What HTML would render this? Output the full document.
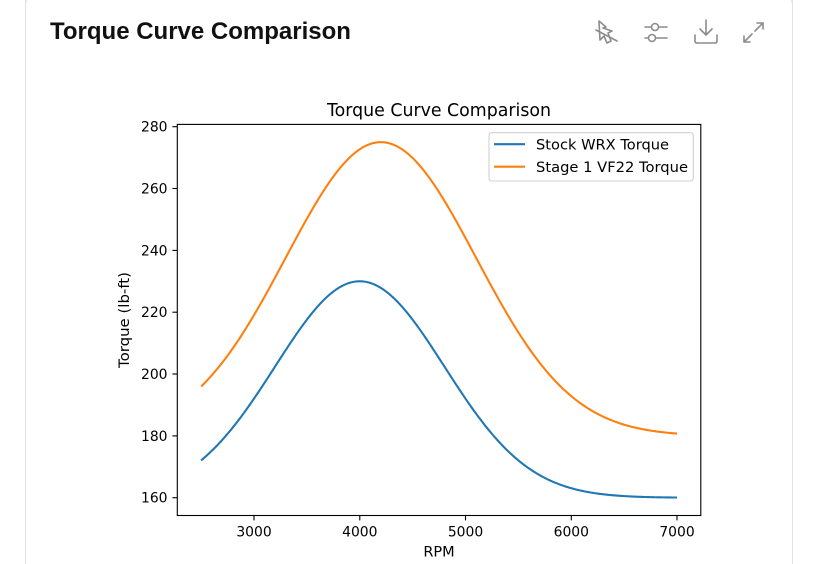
<!DOCTYPE html>
<html><head><meta charset="utf-8">
<style>
html,body{margin:0;padding:0;background:#fff;width:820px;height:564px;overflow:hidden;}
#wrap{position:relative;width:820px;height:564px;overflow:hidden;font-family:"Liberation Sans",Arial,sans-serif;background:#fff;}
.card{position:absolute;left:25px;top:0;width:768px;height:564px;box-sizing:border-box;border:1px solid #e3e3e3;border-top:none;border-bottom:none;border-radius:0;background:#fff;}
.cardtop{position:absolute;left:25px;top:0;width:768px;height:30px;box-sizing:border-box;overflow:hidden;}
.cardtop div{position:absolute;left:0;top:-12px;width:768px;height:60px;box-sizing:border-box;border:1px solid #e3e3e3;border-radius:18px;background:#fff;}
.h{position:absolute;left:50px;top:18px;font-size:24px;font-weight:bold;color:#111;letter-spacing:0px;}
svg{position:absolute;left:0;top:0;}
</style></head>
<body>
<div id="wrap">
<div class="card"></div>
<div class="cardtop"><div></div></div>
<div class="h">Torque Curve Comparison</div>
<svg width="820" height="564" viewBox="0 0 820 564">
  <g fill="none" stroke="#8c8c8c" stroke-width="1.6" stroke-linecap="round" stroke-linejoin="round">
    <path d="M599 21 L606 27 L603 28 L612 31 L608 33 L611 41 L607 43 L604 36 L600 40 Z"/>
    <path d="M596 30 L617 41"/>
    <path d="M645 27 L651 27 M659 27 L667 27"/>
    <circle cx="655" cy="27" r="3.5"/>
    <path d="M645 38 L648 38 M656 38 L667 38"/>
    <circle cx="652" cy="38" r="3.5"/>
    <path d="M706 20 L706 35 M700 29 L706 35 L712 29"/>
    <path d="M695 35 L695 41 Q695 43 697 43 L715 43 Q717 43 717 41 L717 35"/>
    <path d="M755 31 L763 23 M757 23 L763 23 L763 29"/>
    <path d="M752 34 L744 42 M744 36 L744 42 L750 42"/>
  </g>

  <text x="439" y="116" text-anchor="middle" font-family="DejaVu Sans, sans-serif" font-size="17.4" textLength="224" lengthAdjust="spacingAndGlyphs" fill="#000">Torque Curve Comparison</text>

  <path id="s1" fill="none" stroke="#1f77b4" stroke-width="2.08" stroke-linejoin="round"/>
  <path id="s2" fill="none" stroke="#ff7f0e" stroke-width="2.08" stroke-linejoin="round"/>

  <rect x="177.3" y="124.4" width="523.5" height="391.1" fill="none" stroke="#000" stroke-width="1.1"/>

  <g stroke="#000" stroke-width="1.1">
    <line x1="172.4" x2="177.3" y1="497.7" y2="497.7"/>
    <line x1="172.4" x2="177.3" y1="435.9" y2="435.9"/>
    <line x1="172.4" x2="177.3" y1="374.0" y2="374.0"/>
    <line x1="172.4" x2="177.3" y1="312.2" y2="312.2"/>
    <line x1="172.4" x2="177.3" y1="250.4" y2="250.4"/>
    <line x1="172.4" x2="177.3" y1="188.5" y2="188.5"/>
    <line x1="172.4" x2="177.3" y1="126.7" y2="126.7"/>
    <line x1="254" x2="254" y1="515.5" y2="520.4"/>
    <line x1="359.8" x2="359.8" y1="515.5" y2="520.4"/>
    <line x1="465.5" x2="465.5" y1="515.5" y2="520.4"/>
    <line x1="571.3" x2="571.3" y1="515.5" y2="520.4"/>
    <line x1="677" x2="677" y1="515.5" y2="520.4"/>
  </g>

  <g font-family="DejaVu Sans, sans-serif" font-size="13.9" fill="#000" text-anchor="end">
    <text x="167.5" y="502.7">160</text>
    <text x="167.5" y="440.9">180</text>
    <text x="167.5" y="379.0">200</text>
    <text x="167.5" y="317.2">220</text>
    <text x="167.5" y="255.4">240</text>
    <text x="167.5" y="193.5">260</text>
    <text x="167.5" y="131.7">280</text>
  </g>
  <g font-family="DejaVu Sans, sans-serif" font-size="13.9" fill="#000" text-anchor="middle">
    <text x="254" y="536.5">3000</text>
    <text x="359.8" y="536.5">4000</text>
    <text x="465.5" y="536.5">5000</text>
    <text x="571.3" y="536.5">6000</text>
    <text x="677" y="536.5">7000</text>
  </g>

  <text x="439" y="556.5" text-anchor="middle" font-family="DejaVu Sans, sans-serif" font-size="14.5" fill="#000">RPM</text>
  <text transform="translate(129,320) rotate(-90)" text-anchor="middle" font-family="DejaVu Sans, sans-serif" font-size="14.5" textLength="96" lengthAdjust="spacingAndGlyphs" fill="#000">Torque (lb-ft)</text>

  <rect x="489" y="132.7" width="204.3" height="48.3" rx="2.8" fill="#fff" stroke="#d0d0d0" stroke-width="1.1"/>
  <line x1="494" y1="144.2" x2="525" y2="144.2" stroke="#1f77b4" stroke-width="2.08"/>
  <line x1="494" y1="166.7" x2="525" y2="166.7" stroke="#ff7f0e" stroke-width="2.08"/>
  <text x="536" y="149.4" font-family="DejaVu Sans, sans-serif" font-size="14.5" textLength="133" lengthAdjust="spacingAndGlyphs" fill="#000">Stock WRX Torque</text>
  <text x="536" y="171.9" font-family="DejaVu Sans, sans-serif" font-size="14.5" textLength="152" lengthAdjust="spacingAndGlyphs" fill="#000">Stage 1 VF22 Torque</text>
</svg>
</div>
<script>
(function(){
  function X(r){return 177.3+(r-2275)*0.10576;}
  function Y(v){return 515.5-(v-154.25)*3.092;}
  function stock(r){return 160+70*Math.exp(-Math.pow(r-4000,2)/(2*800*800));}
  function stage(r){return 180+95*Math.exp(-Math.pow(r-4200,2)/(2*900*900));}
  function build(f){
    var d="";
    for(var i=0;i<=300;i++){
      var r=2500+4500*i/300;
      d+=(i?"L":"M")+X(r).toFixed(2)+" "+Y(f(r)).toFixed(2);
    }
    return d;
  }
  document.getElementById("s1").setAttribute("d",build(stock));
  document.getElementById("s2").setAttribute("d",build(stage));
})();
</script>
</body></html>
